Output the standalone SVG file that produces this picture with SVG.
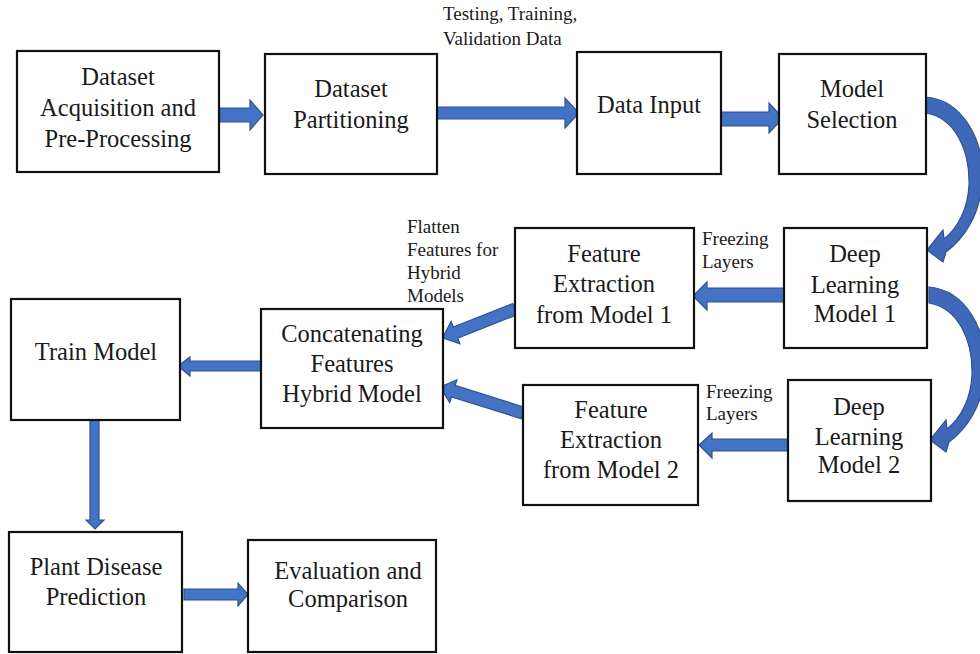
<svg xmlns="http://www.w3.org/2000/svg" width="980" height="654" viewBox="0 0 980 654" font-family="'Liberation Serif', 'DejaVu Serif', serif">
<style>
.box{fill:#fff;stroke:#111;stroke-width:2.2}
.lbl{font-family:'Liberation Serif','DejaVu Serif',serif;font-size:24.5px;fill:#1a1a1a;text-anchor:middle}
.sm{font-family:'Liberation Serif','DejaVu Serif',serif;font-size:19px;fill:#1a1a1a}
.ar{fill:#4472C4;stroke:#2F528F;stroke-width:1.2;stroke-linejoin:miter}
.cu{fill:#3F68B8;stroke:#2F528F;stroke-width:1.2}
</style>
<defs>
<path id="curve" d="M926,97 C962,100 986,140 982,185 C979,215 965,238 946,252 L943,262 L927,250 L943,230 L944,239 C958,228 968,208 969,185 C970,150 955,118 926,113 Z"/>
</defs>
<rect width="980" height="654" fill="#fff"/>
<g id="connectors">
<polygon class="ar" points="219,108 250,108 250,100 263,115 250,130 250,122 219,122"/>
<polygon class="ar" points="437,107 565,107 565,98 579,113 565,128 565,119 437,119"/>
<polygon class="ar" points="721,112 769,112 769,103 783,118 769,133 769,126 721,126"/>
<use href="#curve" class="cu"/>
<use href="#curve" class="cu" transform="translate(3,190)"/>
<polygon class="ar" points="784,288 707,288 707,282 693,296 707,310 707,302 784,302"/>
<polygon class="ar" points="788,439 712,439 712,433 699,445 712,458 712,451 788,451"/>
<polygon class="ar" transform="translate(515,309) rotate(158.3)" points="0,-6 64,-6 64,-12 78,0 64,12 64,6 0,6"/>
<polygon class="ar" transform="translate(523,413) rotate(197.4)" points="0,-6 73,-6 73,-12 87,0 73,12 73,6 0,6"/>
<polygon class="ar" points="261,361 190,361 190,357 178,366 190,376 190,371 261,371"/>
<polygon class="ar" points="90,420 90,520 86,520 95,529 104,520 99,520 99,420"/>
<polygon class="ar" points="184,589 238,589 238,583 248,594.5 238,606 238,600 184,600"/>
</g>
<g id="n1"><rect class="box" x="17" y="51" width="202" height="121"/>
<text class="lbl" x="118" y="85">Dataset</text><text class="lbl" x="118" y="116">Acquisition and</text><text class="lbl" x="118" y="147">Pre-Processing</text></g>
<g id="n2"><rect class="box" x="265" y="54" width="172" height="120"/>
<text class="lbl" x="351" y="97">Dataset</text><text class="lbl" x="351" y="128">Partitioning</text></g>
<g id="n3"><rect class="box" x="577" y="52" width="144" height="122"/>
<text class="lbl" x="649" y="113">Data Input</text></g>
<g id="n4"><rect class="box" x="779" y="54" width="147" height="120"/>
<text class="lbl" x="852" y="97">Model</text><text class="lbl" x="852" y="128">Selection</text></g>
<g id="n5"><rect class="box" x="784" y="228" width="143" height="120"/>
<text class="lbl" x="855" y="262">Deep</text><text class="lbl" x="855" y="293">Learning</text><text class="lbl" x="855" y="322">Model 1</text></g>
<g id="n6"><rect class="box" x="515" y="228" width="179" height="120"/>
<text class="lbl" x="604" y="262">Feature</text><text class="lbl" x="604" y="292">Extraction</text><text class="lbl" x="604" y="323">from Model 1</text></g>
<g id="n7"><rect class="box" x="261" y="309" width="182" height="119"/>
<text class="lbl" x="352" y="342">Concatenating</text><text class="lbl" x="352" y="372">Features</text><text class="lbl" x="352" y="402">Hybrid Model</text></g>
<g id="n8"><rect class="box" x="11" y="299" width="169" height="121"/>
<text class="lbl" x="96" y="360">Train Model</text></g>
<g id="n9"><rect class="box" x="523" y="385" width="175" height="120"/>
<text class="lbl" x="611" y="418">Feature</text><text class="lbl" x="611" y="448">Extraction</text><text class="lbl" x="611" y="478">from Model 2</text></g>
<g id="n10"><rect class="box" x="788" y="380" width="143" height="121"/>
<text class="lbl" x="859" y="415">Deep</text><text class="lbl" x="859" y="445">Learning</text><text class="lbl" x="859" y="473">Model 2</text></g>
<g id="n11"><rect class="box" x="9" y="532" width="173" height="120"/>
<text class="lbl" x="96" y="575">Plant Disease</text><text class="lbl" x="96" y="605">Prediction</text></g>
<g id="n12"><rect class="box" x="248" y="540" width="188" height="112"/>
<text class="lbl" x="348" y="579">Evaluation and</text><text class="lbl" x="348" y="607">Comparison</text></g>
<g id="labels">
<text class="sm" x="443" y="20">Testing, Training,</text>
<text class="sm" x="443" y="45">Validation Data</text>
<text class="sm" x="407" y="233">Flatten</text>
<text class="sm" x="407" y="256">Features for</text>
<text class="sm" x="407" y="279">Hybrid</text>
<text class="sm" x="407" y="302">Models</text>
<text class="sm" x="702" y="245">Freezing</text>
<text class="sm" x="702" y="268">Layers</text>
<text class="sm" x="706" y="398">Freezing</text>
<text class="sm" x="706" y="420">Layers</text>
</g>
</svg>
